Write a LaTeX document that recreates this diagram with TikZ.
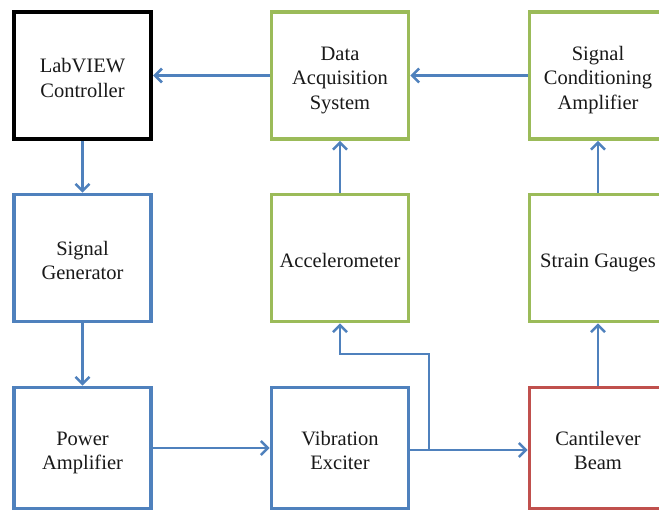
\documentclass[tikz,border=0pt]{standalone}
\usepackage{fontspec}
\setmainfont{Liberation Serif}
\usetikzlibrary{arrows.meta}
\definecolor{bblue}{HTML}{4F81BD}
\definecolor{bgreen}{HTML}{9BBB59}
\definecolor{bred}{HTML}{C0504D}
\newcommand{\btxt}[1]{\raisebox{-4.5pt}[\height][\depth]{\begin{tabular}{@{}c@{}}#1\end{tabular}}}
\begin{document}
\begin{tikzpicture}[x=1pt,y=-1pt,
  box/.style={draw,line width=3.6pt,minimum width=137pt,minimum height=127pt,inner sep=0pt,align=center,font=\fontsize{20.5}{24.5}\selectfont,text=black!90},
  shortbox/.style={box,minimum height=121pt},
  conn/.style={draw=bblue,line width=2.8pt,-{Straight Barb[length=7pt,width=14pt,line width=2.6pt]}}]
\useasboundingbox[fill=white] (0,0) rectangle (659,512);
\node[box,draw=black,line width=4.2pt] (lab) at (82.5,75.5) {\btxt{LabVIEW\\Controller}};
\node[box,draw=bgreen] (daq) at (340,75.5) {\btxt{Data\\Acquisition\\System}};
\node[box,draw=bgreen] (sca) at (598,75.5) {\btxt{Signal\\Conditioning\\Amplifier}};
\node[box,draw=bblue] (sg) at (82.5,258) {\btxt{Signal\\Generator}};
\node[box,draw=bgreen] (acc) at (340,258) {\btxt{Accelerometer}};
\node[box,draw=bgreen] (sgg) at (598,258) {\btxt{Strain Gauges}};
\node[shortbox,draw=bblue] (pa) at (82.5,448) {\btxt{Power\\Amplifier}};
\node[shortbox,draw=bblue] (ve) at (340,448) {\btxt{Vibration\\Exciter}};
\node[shortbox,draw=bred] (cb) at (598,448) {\btxt{Cantilever\\Beam}};
\coordinate (j) at (429,450);
\draw[conn] (daq) -- (lab);
\draw[conn] (sca) -- (daq);
\draw[conn] (lab) -- (sg);
\draw[conn] (sg) -- (pa);
\draw[conn] (pa.east |- 0,448) -- (ve.west |- 0,448);
\draw[conn] (ve.east |- j) -- (cb.west |- j);
\draw[conn] (j) -- (429,354) -- (340,354) -- (acc.south);
\draw[conn] (cb) -- (sgg);
\draw[conn] (sgg) -- (sca);
\draw[conn] (acc) -- (daq);
\end{tikzpicture}
\end{document}
